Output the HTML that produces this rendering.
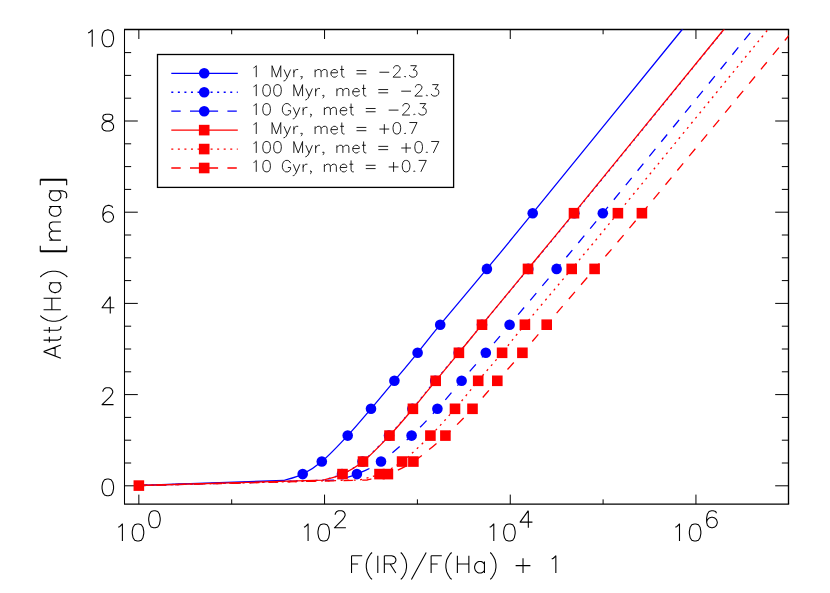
<!DOCTYPE html>
<html><head><meta charset="utf-8"><title>Att(Ha) vs F(IR)/F(Ha)</title>
<style>html,body{margin:0;padding:0;background:#fff;font-family:"Liberation Sans",sans-serif}svg{display:block}</style>
</head><body>
<svg width="830" height="593" viewBox="0 0 830 593">
<rect width="830" height="593" fill="#fff"/>
<defs><clipPath id="c"><rect x="124.5" y="29.5" width="664" height="474.6"/></clipPath></defs>
<path d="M124 29.5L789.15 29.5" fill="none" stroke="#000" stroke-width="1.3"/>
<path d="M124 504.1L789.15 504.1" fill="none" stroke="#000" stroke-width="1.3"/>
<path d="M124.5 29.5L124.5 504.1" fill="none" stroke="#000" stroke-width="1.05"/>
<path d="M788.5 29.5L788.5 504.1" fill="none" stroke="#000" stroke-width="1.35"/>
<path d="M138.85 504.1v-9.5M138.85 29.5v9.5M231.7 504.1v-4.75M231.7 29.5v4.75M324.55 504.1v-9.5M324.55 29.5v9.5M417.4 504.1v-4.75M417.4 29.5v4.75M510.25 504.1v-9.5M510.25 29.5v9.5M603.1 504.1v-4.75M603.1 29.5v4.75M695.95 504.1v-9.5M695.95 29.5v9.5M124.5 485.8h13.3M788.5 485.8h-13.3M124.5 463h6.65M788.5 463h-6.65M124.5 440.2h6.65M788.5 440.2h-6.65M124.5 417.4h6.65M788.5 417.4h-6.65M124.5 394.6h13.3M788.5 394.6h-13.3M124.5 371.8h6.65M788.5 371.8h-6.65M124.5 349h6.65M788.5 349h-6.65M124.5 326.2h6.65M788.5 326.2h-6.65M124.5 303.4h13.3M788.5 303.4h-13.3M124.5 280.6h6.65M788.5 280.6h-6.65M124.5 257.8h6.65M788.5 257.8h-6.65M124.5 235h6.65M788.5 235h-6.65M124.5 212.2h13.3M788.5 212.2h-13.3M124.5 189.4h6.65M788.5 189.4h-6.65M124.5 166.6h6.65M788.5 166.6h-6.65M124.5 143.8h6.65M788.5 143.8h-6.65M124.5 121h13.3M788.5 121h-13.3M124.5 98.2h6.65M788.5 98.2h-6.65M124.5 75.4h6.65M788.5 75.4h-6.65M124.5 52.6h6.65M788.5 52.6h-6.65" fill="none" stroke="#000" stroke-width="1.0"/>
<g clip-path="url(#c)" fill="none" stroke-linecap="butt" stroke-linejoin="round">
<path d="M138.85 485.5L283.7 480.5C286.87 479.43 296.35 477.26 302.7 474.1C309.05 470.94 314.3 467.97 321.8 461.55C329.3 455.13 339.5 444.39 347.7 435.6C355.9 426.81 363.22 417.93 371 408.8C378.78 399.67 386.63 390.13 394.4 380.8C402.17 371.47 409.97 362.15 417.6 352.8C425.23 343.45 428.65 338.68 440.2 324.7C451.75 310.72 471.48 287.48 486.9 268.9C502.32 250.32 500.15 253.1 532.7 213.2C565.25 173.3 652.3 66.24 682.2 29.5C712.1 -7.24 707.12 -1.12 712.1 -7.24" stroke="#0000ff" stroke-width="1.3"/>
<path d="M138.85 485.5L322.6 480.2C325.83 479.18 335.35 477.21 342 474.1C348.65 470.99 354.67 467.97 362.5 461.55C370.33 455.13 380.68 444.39 389 435.6C397.32 426.81 404.7 417.93 412.4 408.8C420.1 399.67 427.48 390.13 435.2 380.8C442.92 371.47 450.9 362.15 458.7 352.8C466.5 343.45 470.41 338.68 482 324.7C493.59 310.72 512.87 287.48 528.25 268.9C543.63 250.32 541.66 253.1 574.3 213.2C606.94 173.3 694.14 66.24 724.1 29.5C754.06 -7.24 749.07 -1.12 754.06 -7.24" stroke="#0000ff" stroke-width="1.3" stroke-dasharray="2.0 4.55" stroke-dashoffset="0"/>
<path d="M138.85 485.5L337.5 480.1C340.73 479.1 349.65 477.19 356.9 474.1C364.15 471.01 371.88 467.97 381 461.55C390.12 455.13 402.2 444.39 411.6 435.6C421 426.81 429.07 417.93 437.4 408.8C445.73 399.67 453.53 390.13 461.6 380.8C469.67 371.47 477.8 362.15 485.8 352.8C493.8 343.45 497.8 338.68 509.6 324.7C521.4 310.72 541.07 287.48 556.6 268.9C572.13 250.32 570.07 253.1 602.8 213.2C635.53 173.3 722.96 66.24 753 29.5C783.04 -7.24 778.03 -1.12 783.04 -7.24" stroke="#0000ff" stroke-width="1.3" stroke-dasharray="9.4 9.3" stroke-dashoffset="1.0"/>
<path d="M138.85 485.5L323 480.2C326.25 479.18 335.83 477.21 342.5 474.1C349.17 470.99 355.17 467.97 363 461.55C370.83 455.13 381.18 444.39 389.5 435.6C397.82 426.81 405.2 417.93 412.9 408.8C420.6 399.67 428.03 390.13 435.7 380.8C443.37 371.47 451.18 362.15 458.9 352.8C466.62 343.45 470.48 338.68 482 324.7C493.52 310.72 512.67 287.48 528 268.9C543.33 250.32 541.37 253.1 574 213.2C606.63 173.3 693.84 66.24 723.8 29.5C753.76 -7.24 748.77 -1.12 753.76 -7.24" stroke="#ff0000" stroke-width="1.3"/>
<path d="M138.85 485.5L359.5 480C362.83 479.02 372.4 477.18 379.5 474.1C386.6 471.03 393.62 467.97 402.1 461.55C410.58 455.13 421.58 444.39 430.4 435.6C439.22 426.81 447.03 417.93 455 408.8C462.97 399.67 470.35 390.13 478.2 380.8C486.05 371.47 494.32 362.15 502.1 352.8C509.88 343.45 513.3 338.68 524.9 324.7C536.5 310.72 556.2 287.48 571.7 268.9C587.2 250.32 585.18 253.1 617.9 213.2C650.62 173.3 737.98 66.24 768 29.5C798.02 -7.24 793.02 -1.12 798.02 -7.24" stroke="#ff0000" stroke-width="1.3" stroke-dasharray="2.0 4.55" stroke-dashoffset="1.2"/>
<path d="M138.85 485.5L367 480C370.48 479.02 380.17 477.18 387.9 474.1C395.63 471.03 403.82 467.97 413.4 461.55C422.98 455.13 435.55 444.39 445.4 435.6C455.25 426.81 463.85 417.93 472.5 408.8C481.15 399.67 488.98 390.13 497.3 380.8C505.62 371.47 514.17 362.15 522.4 352.8C530.63 343.45 534.67 338.68 546.7 324.7C558.73 310.72 578.73 287.48 594.6 268.9C610.47 250.32 609.58 252.02 641.9 213.2C674.22 174.38 759.18 71.44 788.5 36C817.82 0.56 812.93 6.47 817.82 0.56" stroke="#ff0000" stroke-width="1.3" stroke-dasharray="9.4 9.3" stroke-dashoffset="1.0"/>
</g>
<g>
<circle cx="302.7" cy="474.1" r="5.3" fill="#0000ff"/>
<circle cx="321.8" cy="461.55" r="5.3" fill="#0000ff"/>
<circle cx="347.7" cy="435.6" r="5.3" fill="#0000ff"/>
<circle cx="371" cy="408.8" r="5.3" fill="#0000ff"/>
<circle cx="394.4" cy="380.8" r="5.3" fill="#0000ff"/>
<circle cx="417.6" cy="352.8" r="5.3" fill="#0000ff"/>
<circle cx="440.2" cy="324.7" r="5.3" fill="#0000ff"/>
<circle cx="486.9" cy="268.9" r="5.3" fill="#0000ff"/>
<circle cx="532.7" cy="213.2" r="5.3" fill="#0000ff"/>
<circle cx="342" cy="474.1" r="5.3" fill="#0000ff"/>
<circle cx="362.5" cy="461.55" r="5.3" fill="#0000ff"/>
<circle cx="389" cy="435.6" r="5.3" fill="#0000ff"/>
<circle cx="412.4" cy="408.8" r="5.3" fill="#0000ff"/>
<circle cx="435.2" cy="380.8" r="5.3" fill="#0000ff"/>
<circle cx="458.7" cy="352.8" r="5.3" fill="#0000ff"/>
<circle cx="482" cy="324.7" r="5.3" fill="#0000ff"/>
<circle cx="528.25" cy="268.9" r="5.3" fill="#0000ff"/>
<circle cx="574.3" cy="213.2" r="5.3" fill="#0000ff"/>
<circle cx="356.9" cy="474.1" r="5.3" fill="#0000ff"/>
<circle cx="381" cy="461.55" r="5.3" fill="#0000ff"/>
<circle cx="411.6" cy="435.6" r="5.3" fill="#0000ff"/>
<circle cx="437.4" cy="408.8" r="5.3" fill="#0000ff"/>
<circle cx="461.6" cy="380.8" r="5.3" fill="#0000ff"/>
<circle cx="485.8" cy="352.8" r="5.3" fill="#0000ff"/>
<circle cx="509.6" cy="324.7" r="5.3" fill="#0000ff"/>
<circle cx="556.6" cy="268.9" r="5.3" fill="#0000ff"/>
<circle cx="602.8" cy="213.2" r="5.3" fill="#0000ff"/>
<rect x="337.2" y="468.8" width="10.6" height="10.6" fill="#ff0000"/>
<rect x="357.7" y="456.25" width="10.6" height="10.6" fill="#ff0000"/>
<rect x="384.2" y="430.3" width="10.6" height="10.6" fill="#ff0000"/>
<rect x="407.6" y="403.5" width="10.6" height="10.6" fill="#ff0000"/>
<rect x="430.4" y="375.5" width="10.6" height="10.6" fill="#ff0000"/>
<rect x="453.6" y="347.5" width="10.6" height="10.6" fill="#ff0000"/>
<rect x="476.7" y="319.4" width="10.6" height="10.6" fill="#ff0000"/>
<rect x="522.7" y="263.6" width="10.6" height="10.6" fill="#ff0000"/>
<rect x="568.7" y="207.9" width="10.6" height="10.6" fill="#ff0000"/>
<rect x="374.2" y="468.8" width="10.6" height="10.6" fill="#ff0000"/>
<rect x="396.8" y="456.25" width="10.6" height="10.6" fill="#ff0000"/>
<rect x="425.1" y="430.3" width="10.6" height="10.6" fill="#ff0000"/>
<rect x="449.7" y="403.5" width="10.6" height="10.6" fill="#ff0000"/>
<rect x="472.9" y="375.5" width="10.6" height="10.6" fill="#ff0000"/>
<rect x="496.8" y="347.5" width="10.6" height="10.6" fill="#ff0000"/>
<rect x="519.6" y="319.4" width="10.6" height="10.6" fill="#ff0000"/>
<rect x="566.4" y="263.6" width="10.6" height="10.6" fill="#ff0000"/>
<rect x="612.6" y="207.9" width="10.6" height="10.6" fill="#ff0000"/>
<rect x="382.6" y="468.8" width="10.6" height="10.6" fill="#ff0000"/>
<rect x="408.1" y="456.25" width="10.6" height="10.6" fill="#ff0000"/>
<rect x="440.1" y="430.3" width="10.6" height="10.6" fill="#ff0000"/>
<rect x="467.2" y="403.5" width="10.6" height="10.6" fill="#ff0000"/>
<rect x="492" y="375.5" width="10.6" height="10.6" fill="#ff0000"/>
<rect x="517.1" y="347.5" width="10.6" height="10.6" fill="#ff0000"/>
<rect x="541.4" y="319.4" width="10.6" height="10.6" fill="#ff0000"/>
<rect x="589.3" y="263.6" width="10.6" height="10.6" fill="#ff0000"/>
<rect x="636.6" y="207.9" width="10.6" height="10.6" fill="#ff0000"/>
<rect x="133.55" y="480.3" width="10.6" height="10.6" fill="#ff0000"/>
</g>
<path d="M106.98 479L104.52 479.8L102.88 482.2L102.06 486.2L102.06 488.6L102.88 492.6L104.52 495L106.98 495.8L108.62 495.8L111.08 495L112.72 492.6L113.54 488.6L113.54 486.2L112.72 482.2L111.08 479.8L108.62 479L106.98 479M102.88 391.8L102.88 391L103.7 389.4L104.52 388.6L106.16 387.8L109.44 387.8L111.08 388.6L111.9 389.4L112.72 391L112.72 392.6L111.9 394.2L110.26 396.6L102.06 404.6L113.54 404.6M110.26 296.6L102.06 307.8L114.36 307.8M110.26 296.6L110.26 313.4M112.72 207.8L111.9 206.2L109.44 205.4L107.8 205.4L105.34 206.2L103.7 208.6L102.88 212.6L102.88 216.6L103.7 219.8L105.34 221.4L107.8 222.2L108.62 222.2L111.08 221.4L112.72 219.8L113.54 217.4L113.54 216.6L112.72 214.2L111.08 212.6L108.62 211.8L107.8 211.8L105.34 212.6L103.7 214.2L102.88 216.6M106.16 114.2L103.7 115L102.88 116.6L102.88 118.2L103.7 119.8L105.34 120.6L108.62 121.4L111.08 122.2L112.72 123.8L113.54 125.4L113.54 127.8L112.72 129.4L111.9 130.2L109.44 131L106.16 131L103.7 130.2L102.88 129.4L102.06 127.8L102.06 125.4L102.88 123.8L104.52 122.2L106.98 121.4L110.26 120.6L111.9 119.8L112.72 118.2L112.72 116.6L111.9 115L109.44 114.2L106.16 114.2M88.12 33.1L89.76 32.3L92.22 29.9L92.22 46.7M106.98 29.9L104.52 30.7L102.88 33.1L102.06 37.1L102.06 39.5L102.88 43.5L104.52 45.9L106.98 46.7L108.62 46.7L111.08 45.9L112.72 43.5L113.54 39.5L113.54 37.1L112.72 33.1L111.08 30.7L108.62 29.9L106.98 29.9M118.28 527.23L119.93 526.42L122.39 523.99L122.39 541M137.19 523.99L134.72 524.8L133.08 527.23L132.26 531.28L132.26 533.71L133.08 537.76L134.72 540.19L137.19 541L138.83 541L141.3 540.19L142.94 537.76L143.76 533.71L143.76 531.28L142.94 527.23L141.3 524.8L138.83 523.99L137.19 523.99M153.63 510.68L151.16 511.5L149.52 513.94L148.7 518.02L148.7 520.46L149.52 524.54L151.16 526.98L153.63 527.8L155.27 527.8L157.74 526.98L159.38 524.54L160.2 520.46L160.2 518.02L159.38 513.94L157.74 511.5L155.27 510.68L153.63 510.68M303.98 527.23L305.63 526.42L308.09 523.99L308.09 541M322.89 523.99L320.42 524.8L318.78 527.23L317.96 531.28L317.96 533.71L318.78 537.76L320.42 540.19L322.89 541L324.53 541L327 540.19L328.64 537.76L329.46 533.71L329.46 531.28L328.64 527.23L327 524.8L324.53 523.99L322.89 523.99M335.22 514.76L335.22 513.94L336.04 512.31L336.86 511.5L338.51 510.68L341.79 510.68L343.44 511.5L344.26 512.31L345.08 513.94L345.08 515.57L344.26 517.2L342.62 519.65L334.4 527.8L345.9 527.8M489.68 527.23L491.33 526.42L493.79 523.99L493.79 541M508.59 523.99L506.12 524.8L504.48 527.23L503.66 531.28L503.66 533.71L504.48 537.76L506.12 540.19L508.59 541L510.23 541L512.7 540.19L514.34 537.76L515.16 533.71L515.16 531.28L514.34 527.23L512.7 524.8L510.23 523.99L508.59 523.99M528.32 510.68L520.1 522.09L532.43 522.09M528.32 510.68L528.32 527.8M675.38 527.23L677.03 526.42L679.49 523.99L679.49 541M694.29 523.99L691.82 524.8L690.18 527.23L689.36 531.28L689.36 533.71L690.18 537.76L691.82 540.19L694.29 541L695.93 541L698.4 540.19L700.04 537.76L700.86 533.71L700.86 531.28L700.04 527.23L698.4 524.8L695.93 523.99L694.29 523.99M716.48 513.13L715.66 511.5L713.19 510.68L711.55 510.68L709.08 511.5L707.44 513.94L706.62 518.02L706.62 522.09L707.44 525.35L709.08 526.98L711.55 527.8L712.37 527.8L714.84 526.98L716.48 525.35L717.3 522.91L717.3 522.09L716.48 519.65L714.84 518.02L712.37 517.2L711.55 517.2L709.08 518.02L707.44 519.65L706.62 522.09" fill="none" stroke="#000" stroke-width="1.1" stroke-linecap="butt" stroke-linejoin="round"/>
<path d="M351.53 555.79L351.53 573.05M351.53 555.79L362.2 555.79M351.53 564.01L358.1 564.01M372.04 552.5L370.4 554.19L368.76 556.71L367.12 560.08L366.3 564.3L366.3 567.67L367.12 571.88L368.76 575.25L370.4 577.78L372.04 579.46M377.79 555.79L377.79 573.05M384.35 555.79L384.35 573.05M384.35 555.79L391.74 555.79L394.2 556.61L395.02 557.43L395.84 559.08L395.84 560.72L395.02 562.36L394.2 563.19L391.74 564.01L384.35 564.01M390.1 564.01L395.84 573.05M400.76 552.5L402.4 554.19L404.04 556.71L405.69 560.08L406.51 564.3L406.51 567.67L405.69 571.88L404.04 575.25L402.4 577.78L400.76 579.46M426.2 552.5L411.43 579.46M431.12 555.79L431.12 573.05M431.12 555.79L441.79 555.79M431.12 564.01L437.68 564.01M451.63 552.5L449.99 554.19L448.35 556.71L446.71 560.08L445.89 564.3L445.89 567.67L446.71 571.88L448.35 575.25L449.99 577.78L451.63 579.46M457.38 555.79L457.38 573.05M468.86 555.79L468.86 573.05M457.38 564.01L468.86 564.01M484.45 561.54L484.45 573.05M484.45 564.01L482.81 562.36L481.17 561.54L478.71 561.54L477.07 562.36L475.43 564.01L474.61 566.47L474.61 568.12L475.43 570.58L477.07 572.23L478.71 573.05L481.17 573.05L482.81 572.23L484.45 570.58M490.2 552.5L491.84 554.19L493.48 556.71L495.12 560.08L495.94 564.3L495.94 567.67L495.12 571.88L493.48 575.25L491.84 577.78L490.2 579.46M523.02 558.25L523.02 573.05M515.63 565.65L530.4 565.65M551.73 559.08L553.38 558.25L555.84 555.79L555.84 573.05M43.58 351.62L60.9 358.18M43.58 351.62L60.9 345.06M55.12 355.72L55.12 347.52M43.58 340.14L57.6 340.14L60.07 339.32L60.9 337.68L60.9 336.04M49.35 342.6L49.35 336.86M43.58 330.3L57.6 330.3L60.07 329.48L60.9 327.84L60.9 326.2M49.35 332.76L49.35 327.02M40.27 315.54L41.97 317.18L44.5 318.82L47.89 320.46L52.11 321.28L55.5 321.28L59.72 320.46L63.11 318.82L65.64 317.18L67.33 315.54M43.58 309.8L60.9 309.8M43.58 298.32L60.9 298.32M51.83 309.8L51.83 298.32M49.35 282.74L60.9 282.74M51.83 282.74L50.17 284.38L49.35 286.02L49.35 288.48L50.17 290.12L51.83 291.76L54.3 292.58L55.95 292.58L58.42 291.76L60.07 290.12L60.9 288.48L60.9 286.02L60.07 284.38L58.42 282.74M40.27 277L41.97 275.36L44.5 273.72L47.89 272.08L52.11 271.26L55.5 271.26L59.72 272.08L63.11 273.72L65.64 275.36L67.33 277M40.27 251.58L66.67 251.58M40.27 250.76L66.67 250.76M40.27 251.58L40.27 245.84M66.67 251.58L66.67 245.84M49.35 240.1L60.9 240.1M52.65 240.1L50.17 237.64L49.35 236L49.35 233.54L50.17 231.9L52.65 231.08L60.9 231.08M52.65 231.08L50.17 228.62L49.35 226.98L49.35 224.52L50.17 222.88L52.65 222.06L60.9 222.06M49.35 206.48L60.9 206.48M51.83 206.48L50.17 208.12L49.35 209.76L49.35 212.22L50.17 213.86L51.83 215.5L54.3 216.32L55.95 216.32L58.42 215.5L60.07 213.86L60.9 212.22L60.9 209.76L60.07 208.12L58.42 206.48M49.35 190.9L62.55 190.9L65.03 191.72L65.85 192.54L66.67 194.18L66.67 196.64L65.85 198.28M51.83 190.9L50.17 192.54L49.35 194.18L49.35 196.64L50.17 198.28L51.83 199.92L54.3 200.74L55.95 200.74L58.42 199.92L60.07 198.28L60.9 196.64L60.9 194.18L60.07 192.54L58.42 190.9M40.27 180.24L66.67 180.24M40.27 179.42L66.67 179.42M40.27 185.16L40.27 179.42M66.67 185.16L66.67 179.42" fill="none" stroke="#000" stroke-width="1.1" stroke-linecap="butt" stroke-linejoin="round"/>
<rect x="157.5" y="54.5" width="296.1" height="132.9" fill="#fff" stroke="#000" stroke-width="1.3"/>
<path d="M171.3 73.3H237.8" stroke="#0000ff" stroke-width="1.3" fill="none"/>
<circle cx="204.2" cy="73.3" r="5.3" fill="#0000ff"/>
<path d="M171.3 92.24H237.8" stroke="#0000ff" stroke-width="1.3" fill="none" stroke-dasharray="2.0 4.55"/>
<circle cx="204.2" cy="92.24" r="5.3" fill="#0000ff"/>
<path d="M171.3 111.18H237.8" stroke="#0000ff" stroke-width="1.3" fill="none" stroke-dasharray="9.4 9.3"/>
<circle cx="204.2" cy="111.18" r="5.3" fill="#0000ff"/>
<path d="M171.3 130.12H237.8" stroke="#ff0000" stroke-width="1.3" fill="none"/>
<rect x="198.9" y="124.82" width="10.6" height="10.6" fill="#ff0000"/>
<path d="M171.3 149.06H237.8" stroke="#ff0000" stroke-width="1.3" fill="none" stroke-dasharray="2.0 4.55"/>
<rect x="198.9" y="143.76" width="10.6" height="10.6" fill="#ff0000"/>
<path d="M171.3 168H237.8" stroke="#ff0000" stroke-width="1.3" fill="none" stroke-dasharray="9.4 9.3"/>
<rect x="198.9" y="162.7" width="10.6" height="10.6" fill="#ff0000"/>
<path d="M253.52 67.88L254.61 67.34L256.25 65.7L256.25 77.15M272.05 65.7L272.05 77.15M272.05 65.7L276.41 77.15M280.77 65.7L276.41 77.15M280.77 65.7L280.77 77.15M284.04 69.52L287.31 77.15M290.58 69.52L287.31 77.15L286.22 79.33L285.13 80.42L284.04 80.96L283.5 80.96M293.85 69.52L293.85 77.15M293.85 72.79L294.39 71.15L295.49 70.06L296.57 69.52L298.21 69.52M302.02 76.6L301.48 77.15L300.94 76.6L301.48 76.06L302.02 76.6L302.02 77.69L301.48 78.78L300.94 79.33M315.11 69.52L315.11 77.15M315.11 71.7L316.74 70.06L317.83 69.52L319.47 69.52L320.56 70.06L321.1 71.7L321.1 77.15M321.1 71.7L322.74 70.06L323.82 69.52L325.46 69.52L326.55 70.06L327.1 71.7L327.1 77.15M330.91 72.79L337.45 72.79L337.45 71.7L336.9 70.61L336.36 70.06L335.27 69.52L333.63 69.52L332.55 70.06L331.46 71.15L330.91 72.79L330.91 73.88L331.46 75.51L332.55 76.6L333.63 77.15L335.27 77.15L336.36 76.6L337.45 75.51M341.81 65.7L341.81 74.97L342.36 76.6L343.44 77.15L344.54 77.15M340.18 69.52L343.99 69.52M356.52 70.61L366.34 70.61M356.52 73.88L366.34 73.88M379.42 72.24L389.23 72.24M393.59 68.43L393.59 67.88L394.13 66.79L394.68 66.25L395.76 65.7L397.95 65.7L399.04 66.25L399.58 66.79L400.12 67.88L400.12 68.97L399.58 70.06L398.49 71.7L393.04 77.15L400.67 77.15M405.03 76.06L404.49 76.6L405.03 77.15L405.58 76.6L405.03 76.06M410.48 65.7L416.48 65.7L413.21 70.06L414.84 70.06L415.93 70.61L416.48 71.15L417.02 72.79L417.02 73.88L416.48 75.51L415.38 76.6L413.75 77.15L412.12 77.15L410.48 76.6L409.94 76.06L409.39 74.97M253.52 86.82L254.61 86.28L256.25 84.64L256.25 96.09M266.06 84.64L264.42 85.19L263.33 86.82L262.79 89.55L262.79 91.18L263.33 93.91L264.42 95.54L266.06 96.09L267.14 96.09L268.78 95.54L269.87 93.91L270.42 91.18L270.42 89.55L269.87 86.82L268.78 85.19L267.14 84.64L266.06 84.64M276.95 84.64L275.32 85.19L274.23 86.82L273.69 89.55L273.69 91.18L274.23 93.91L275.32 95.54L276.95 96.09L278.05 96.09L279.68 95.54L280.77 93.91L281.31 91.18L281.31 89.55L280.77 86.82L279.68 85.19L278.05 84.64L276.95 84.64M293.85 84.64L293.85 96.09M293.85 84.64L298.21 96.09M302.57 84.64L298.21 96.09M302.57 84.64L302.57 96.09M305.84 88.46L309.11 96.09M312.38 88.46L309.11 96.09L308.02 98.27L306.93 99.36L305.84 99.9L305.3 99.9M315.65 88.46L315.65 96.09M315.65 91.73L316.19 90.09L317.29 89L318.38 88.46L320.01 88.46M323.82 95.54L323.28 96.09L322.74 95.54L323.28 95L323.82 95.54L323.82 96.63L323.28 97.72L322.74 98.27M336.9 88.46L336.9 96.09M336.9 90.64L338.54 89L339.63 88.46L341.26 88.46L342.36 89L342.9 90.64L342.9 96.09M342.9 90.64L344.54 89L345.62 88.46L347.26 88.46L348.35 89L348.89 90.64L348.89 96.09M352.71 91.73L359.25 91.73L359.25 90.64L358.71 89.55L358.16 89L357.07 88.46L355.44 88.46L354.35 89L353.25 90.09L352.71 91.73L352.71 92.82L353.25 94.45L354.35 95.54L355.44 96.09L357.07 96.09L358.16 95.54L359.25 94.45M363.61 84.64L363.61 93.91L364.16 95.54L365.25 96.09L366.34 96.09M361.98 88.46L365.79 88.46M378.33 89.55L388.13 89.55M378.33 92.82L388.13 92.82M401.22 91.18L411.02 91.18M415.38 87.37L415.38 86.82L415.93 85.73L416.48 85.19L417.57 84.64L419.75 84.64L420.84 85.19L421.38 85.73L421.93 86.82L421.93 87.91L421.38 89L420.29 90.64L414.84 96.09L422.47 96.09M426.83 95L426.29 95.54L426.83 96.09L427.38 95.54L426.83 95M432.28 84.64L438.27 84.64L435 89L436.64 89L437.73 89.55L438.27 90.09L438.82 91.73L438.82 92.82L438.27 94.45L437.19 95.54L435.55 96.09L433.92 96.09L432.28 95.54L431.74 95L431.19 93.91M253.52 105.77L254.61 105.22L256.25 103.59L256.25 115.03M266.06 103.59L264.42 104.13L263.33 105.77L262.79 108.49L262.79 110.12L263.33 112.85L264.42 114.48L266.06 115.03L267.14 115.03L268.78 114.48L269.87 112.85L270.42 110.12L270.42 108.49L269.87 105.77L268.78 104.13L267.14 103.59L266.06 103.59M290.58 106.31L290.04 105.22L288.94 104.13L287.86 103.59L285.68 103.59L284.58 104.13L283.5 105.22L282.95 106.31L282.4 107.94L282.4 110.67L282.95 112.31L283.5 113.39L284.58 114.48L285.68 115.03L287.86 115.03L288.94 114.48L290.04 113.39L290.58 112.31L290.58 110.67M287.86 110.67L290.58 110.67M293.31 107.4L296.57 115.03M299.85 107.4L296.57 115.03L295.49 117.21L294.39 118.3L293.31 118.84L292.76 118.84M303.12 107.4L303.12 115.03M303.12 110.67L303.66 109.03L304.75 107.94L305.84 107.4L307.48 107.4M311.29 114.48L310.75 115.03L310.2 114.48L310.75 113.94L311.29 114.48L311.29 115.58L310.75 116.67L310.2 117.21M324.37 107.4L324.37 115.03M324.37 109.58L326 107.94L327.1 107.4L328.73 107.4L329.82 107.94L330.37 109.58L330.37 115.03M330.37 109.58L332 107.94L333.09 107.4L334.73 107.4L335.81 107.94L336.36 109.58L336.36 115.03M340.18 110.67L346.72 110.67L346.72 109.58L346.17 108.49L345.62 107.94L344.54 107.4L342.9 107.4L341.81 107.94L340.72 109.03L340.18 110.67L340.18 111.76L340.72 113.39L341.81 114.48L342.9 115.03L344.54 115.03L345.62 114.48L346.72 113.39M351.07 103.59L351.07 112.85L351.62 114.48L352.71 115.03L353.8 115.03M349.44 107.4L353.25 107.4M365.79 108.49L375.6 108.49M365.79 111.76L375.6 111.76M388.68 110.12L398.49 110.12M402.85 106.31L402.85 105.77L403.39 104.67L403.94 104.13L405.03 103.59L407.21 103.59L408.3 104.13L408.85 104.67L409.39 105.77L409.39 106.86L408.85 107.94L407.75 109.58L402.31 115.03L409.94 115.03M414.3 113.94L413.75 114.48L414.3 115.03L414.84 114.48L414.3 113.94M419.75 103.59L425.74 103.59L422.47 107.94L424.11 107.94L425.2 108.49L425.74 109.03L426.29 110.67L426.29 111.76L425.74 113.39L424.65 114.48L423.01 115.03L421.38 115.03L419.75 114.48L419.2 113.94L418.65 112.85M253.52 124.7L254.61 124.16L256.25 122.53L256.25 133.97M272.05 122.53L272.05 133.97M272.05 122.53L276.41 133.97M280.77 122.53L276.41 133.97M280.77 122.53L280.77 133.97M284.04 126.34L287.31 133.97M290.58 126.34L287.31 133.97L286.22 136.15L285.13 137.24L284.04 137.78L283.5 137.78M293.85 126.34L293.85 133.97M293.85 129.61L294.39 127.97L295.49 126.88L296.57 126.34L298.21 126.34M302.02 133.43L301.48 133.97L300.94 133.43L301.48 132.88L302.02 133.43L302.02 134.51L301.48 135.6L300.94 136.15M315.11 126.34L315.11 133.97M315.11 128.52L316.74 126.88L317.83 126.34L319.47 126.34L320.56 126.88L321.1 128.52L321.1 133.97M321.1 128.52L322.74 126.88L323.82 126.34L325.46 126.34L326.55 126.88L327.1 128.52L327.1 133.97M330.91 129.61L337.45 129.61L337.45 128.52L336.9 127.43L336.36 126.88L335.27 126.34L333.63 126.34L332.55 126.88L331.46 127.97L330.91 129.61L330.91 130.7L331.46 132.34L332.55 133.43L333.63 133.97L335.27 133.97L336.36 133.43L337.45 132.34M341.81 122.53L341.81 131.79L342.36 133.43L343.44 133.97L344.54 133.97M340.18 126.34L343.99 126.34M356.52 127.43L366.34 127.43M356.52 130.7L366.34 130.7M384.32 124.16L384.32 133.97M379.42 129.06L389.23 129.06M396.31 122.53L394.68 123.07L393.59 124.7L393.04 127.43L393.04 129.06L393.59 131.79L394.68 133.43L396.31 133.97L397.4 133.97L399.04 133.43L400.12 131.79L400.67 129.06L400.67 127.43L400.12 124.7L399.04 123.07L397.4 122.53L396.31 122.53M405.03 132.88L404.49 133.43L405.03 133.97L405.58 133.43L405.03 132.88M417.02 122.53L411.57 133.97M409.39 122.53L417.02 122.53M253.52 143.64L254.61 143.1L256.25 141.47L256.25 152.91M266.06 141.47L264.42 142.01L263.33 143.64L262.79 146.37L262.79 148L263.33 150.73L264.42 152.37L266.06 152.91L267.14 152.91L268.78 152.37L269.87 150.73L270.42 148L270.42 146.37L269.87 143.64L268.78 142.01L267.14 141.47L266.06 141.47M276.95 141.47L275.32 142.01L274.23 143.64L273.69 146.37L273.69 148L274.23 150.73L275.32 152.37L276.95 152.91L278.05 152.91L279.68 152.37L280.77 150.73L281.31 148L281.31 146.37L280.77 143.64L279.68 142.01L278.05 141.47L276.95 141.47M293.85 141.47L293.85 152.91M293.85 141.47L298.21 152.91M302.57 141.47L298.21 152.91M302.57 141.47L302.57 152.91M305.84 145.28L309.11 152.91M312.38 145.28L309.11 152.91L308.02 155.09L306.93 156.18L305.84 156.72L305.3 156.72M315.65 145.28L315.65 152.91M315.65 148.55L316.19 146.91L317.29 145.82L318.38 145.28L320.01 145.28M323.82 152.37L323.28 152.91L322.74 152.37L323.28 151.82L323.82 152.37L323.82 153.45L323.28 154.54L322.74 155.09M336.9 145.28L336.9 152.91M336.9 147.46L338.54 145.82L339.63 145.28L341.26 145.28L342.36 145.82L342.9 147.46L342.9 152.91M342.9 147.46L344.54 145.82L345.62 145.28L347.26 145.28L348.35 145.82L348.89 147.46L348.89 152.91M352.71 148.55L359.25 148.55L359.25 147.46L358.71 146.37L358.16 145.82L357.07 145.28L355.44 145.28L354.35 145.82L353.25 146.91L352.71 148.55L352.71 149.64L353.25 151.28L354.35 152.37L355.44 152.91L357.07 152.91L358.16 152.37L359.25 151.28M363.61 141.47L363.61 150.73L364.16 152.37L365.25 152.91L366.34 152.91M361.98 145.28L365.79 145.28M378.33 146.37L388.13 146.37M378.33 149.64L388.13 149.64M406.12 143.1L406.12 152.91M401.22 148L411.02 148M418.11 141.47L416.48 142.01L415.38 143.64L414.84 146.37L414.84 148L415.38 150.73L416.48 152.37L418.11 152.91L419.2 152.91L420.84 152.37L421.93 150.73L422.47 148L422.47 146.37L421.93 143.64L420.84 142.01L419.2 141.47L418.11 141.47M426.83 151.82L426.29 152.37L426.83 152.91L427.38 152.37L426.83 151.82M438.82 141.47L433.37 152.91M431.19 141.47L438.82 141.47M253.52 162.58L254.61 162.04L256.25 160.41L256.25 171.85M266.06 160.41L264.42 160.95L263.33 162.58L262.79 165.31L262.79 166.94L263.33 169.67L264.42 171.31L266.06 171.85L267.14 171.85L268.78 171.31L269.87 169.67L270.42 166.94L270.42 165.31L269.87 162.58L268.78 160.95L267.14 160.41L266.06 160.41M290.58 163.13L290.04 162.04L288.94 160.95L287.86 160.41L285.68 160.41L284.58 160.95L283.5 162.04L282.95 163.13L282.4 164.76L282.4 167.49L282.95 169.12L283.5 170.22L284.58 171.31L285.68 171.85L287.86 171.85L288.94 171.31L290.04 170.22L290.58 169.12L290.58 167.49M287.86 167.49L290.58 167.49M293.31 164.22L296.57 171.85M299.85 164.22L296.57 171.85L295.49 174.03L294.39 175.12L293.31 175.66L292.76 175.66M303.12 164.22L303.12 171.85M303.12 167.49L303.66 165.85L304.75 164.76L305.84 164.22L307.48 164.22M311.29 171.31L310.75 171.85L310.2 171.31L310.75 170.76L311.29 171.31L311.29 172.39L310.75 173.48L310.2 174.03M324.37 164.22L324.37 171.85M324.37 166.4L326 164.76L327.1 164.22L328.73 164.22L329.82 164.76L330.37 166.4L330.37 171.85M330.37 166.4L332 164.76L333.09 164.22L334.73 164.22L335.81 164.76L336.36 166.4L336.36 171.85M340.18 167.49L346.72 167.49L346.72 166.4L346.17 165.31L345.62 164.76L344.54 164.22L342.9 164.22L341.81 164.76L340.72 165.85L340.18 167.49L340.18 168.58L340.72 170.22L341.81 171.31L342.9 171.85L344.54 171.85L345.62 171.31L346.72 170.22M351.07 160.41L351.07 169.67L351.62 171.31L352.71 171.85L353.8 171.85M349.44 164.22L353.25 164.22M365.79 165.31L375.6 165.31M365.79 168.58L375.6 168.58M393.59 162.04L393.59 171.85M388.68 166.94L398.49 166.94M405.58 160.41L403.94 160.95L402.85 162.58L402.31 165.31L402.31 166.94L402.85 169.67L403.94 171.31L405.58 171.85L406.67 171.85L408.3 171.31L409.39 169.67L409.94 166.94L409.94 165.31L409.39 162.58L408.3 160.95L406.67 160.41L405.58 160.41M414.3 170.76L413.75 171.31L414.3 171.85L414.84 171.31L414.3 170.76M426.29 160.41L420.84 171.85M418.65 160.41L426.29 160.41" fill="none" stroke="#000" stroke-width="0.88" stroke-linecap="butt" stroke-linejoin="round"/>
</svg>
</body></html>
